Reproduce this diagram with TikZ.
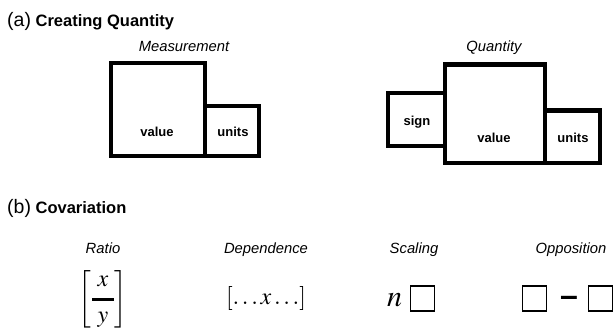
\documentclass[tikz,border=0pt]{standalone}
\usepackage{amsmath}
\usepackage{mathptmx}
\usepackage[no-math]{fontspec}
\setmainfont{Liberation Sans}
\usepackage{tikz}
\tikzset{%
  qbox/.style      = {shape=rectangle, draw, line width=4.5pt,%
                      inner sep=0pt, outer sep=0pt},%
  slot/.style      = {shape=rectangle, draw, line width=1.7pt,%
                      minimum width=24pt, minimum height=25pt},%
  heading/.style   = {font=\bfseries\fontsize{16.5}{19}\selectfont},%
  caption/.style   = {font=\itshape\fontsize{14.8}{17}\selectfont},%
  partlabel/.style = {font=\bfseries\fontsize{13}{15}\selectfont}%
}
\newcommand{\partno}[1]{{\mdseries\fontsize{19.5}{22}\selectfont(#1)}}
\begin{document}
\begin{tikzpicture}[x=1pt,y=-1pt,
	every node/.style = {inner sep=0pt}]
	\useasboundingbox (0,0) rectangle (614,328);
	% (a) creating quantity
	\node [heading,anchor=base west] (heada) at (7,27) {\partno{a} Creating Quantity};
	\node [caption,anchor=base] (measlbl) at (184,52) {Measurement};
	\node [qbox,minimum width=94pt,minimum height=93pt] (mvalue) at (158,109.5) {};
	\node [qbox,anchor=south west,minimum width=54pt,minimum height=50pt] (munits) at (mvalue.south east) {};
	\node [partlabel,anchor=base] (mvaluetxt) at (157,137) {value};
	\node [partlabel,anchor=base] (munitstxt) at (233,137) {units};
	\node [caption,anchor=base] (quantlbl) at (494,52) {Quantity};
	\node [qbox,minimum width=100pt,minimum height=98.5pt] (qvalue) at (495,114) {};
	\node [qbox,anchor=east,minimum width=57pt,minimum height=53pt] (qsign) at (qvalue.west |- 0,119.5) {};
	\node [qbox,anchor=south west,minimum width=55pt,minimum height=52.5pt] (qunits) at (qvalue.south east) {};
	\node [partlabel,anchor=base] (qsigntxt) at (417,126) {sign};
	\node [partlabel,anchor=base] (qvaluetxt) at (494,143) {value};
	\node [partlabel,anchor=base] (qunitstxt) at (573,143) {units};
	% (b) covariation
	\node [heading,anchor=base west] (headb) at (7,214) {\partno{b} Covariation};
	\node [caption,anchor=base] (ratiolbl) at (103,254) {Ratio};
	\node [caption,anchor=base] (deplbl) at (266,254) {Dependence};
	\node [caption,anchor=base] (scalelbl) at (414,254) {Scaling};
	\node [caption,anchor=base] (opplbl) at (571,254) {Opposition};
	\node [font=\fontsize{24}{28}\selectfont,anchor=base] (ratio) at (103,305.5)
		{\smash{$\left[\genfrac{}{}{3.5pt}{0}{\mkern4mu x\mkern4mu}{y}\right]$}};
	\node [font=\fontsize{24}{28}\selectfont] (dep) at (266,298.5) {$[\ldots x\ldots]$};
	\node [font=\fontsize{30}{34}\selectfont,anchor=base] (nfactor) at (394.5,307) {$n$};
	\node [slot] (scaleslot) at (422.5,298.5) {};
	\node [slot] (oppleft) at (534.5,298.5) {};
	\node [font=\bfseries\fontsize{32}{32}\selectfont,anchor=base] (oppminus) at (569,306.5) {–};
	\node [slot] (oppright) at (600.5,298.5) {};
\end{tikzpicture}
\end{document}
